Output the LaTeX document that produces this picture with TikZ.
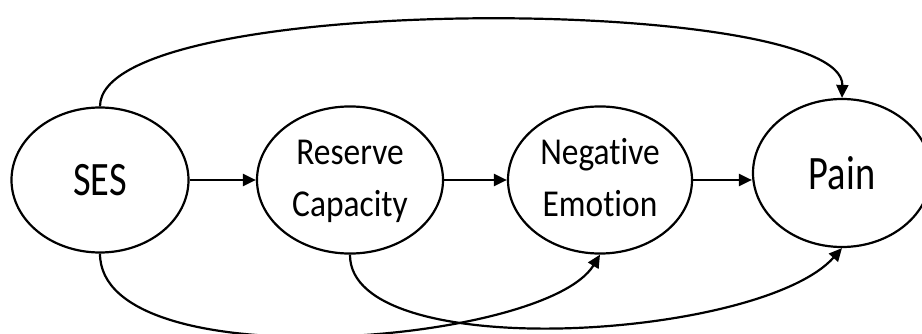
\documentclass[tikz,border=0pt]{standalone}
\usepackage{fontspec}
\setmainfont{Carlito}[Ligatures=NoCommon]
\usetikzlibrary{shapes.geometric,arrows.meta}
\begin{document}
\begin{tikzpicture}[x=1pt,y=-1pt,
  ell/.style={ellipse,draw,line width=2.2pt,inner sep=0pt,fill=white},
  conn/.style={line width=2.2pt,-{Triangle[length=13pt,width=12pt]}}]
\useasboundingbox (0,0) rectangle (922,334);
\fill[white] (0,0) rectangle (922,334);
\node[ell,minimum width=177pt,minimum height=145pt] (ses) at (100,180) {\scalebox{0.8}[1]{\fontsize{48}{58}\selectfont SES}};
\node[ell,minimum width=186pt,minimum height=146pt] (rc) at (350,180) {\scalebox{0.88}[1]{\fontsize{38}{52}\selectfont\begin{tabular}{@{}c@{}}Reserve\\Capacity\end{tabular}}};
\node[ell,minimum width=184pt,minimum height=146pt] (ne) at (600,180) {\scalebox{0.88}[1]{\fontsize{38}{52}\selectfont\begin{tabular}{@{}c@{}}Negative\\Emotion\end{tabular}}};
\node[ell,minimum width=178pt,minimum height=148pt] (pain) at (842,173) {\scalebox{0.8}[1]{\fontsize{48}{58}\selectfont Pain}};
\draw[conn] (ses.east) -- (rc.west);
\draw[conn] (rc.east) -- (ne.west);
\draw[conn] (ne.east) -- (ne.east -| pain.west);
\draw[conn] (ses.north) .. controls (100,-10) and (845,-5) .. (pain.north);
\draw[conn] (ses.south) .. controls (100,380) and (545,345) .. (ne.south);
\draw[conn] (rc.south) .. controls (349,365) and (760,340) .. (pain.south);
\end{tikzpicture}
\end{document}
